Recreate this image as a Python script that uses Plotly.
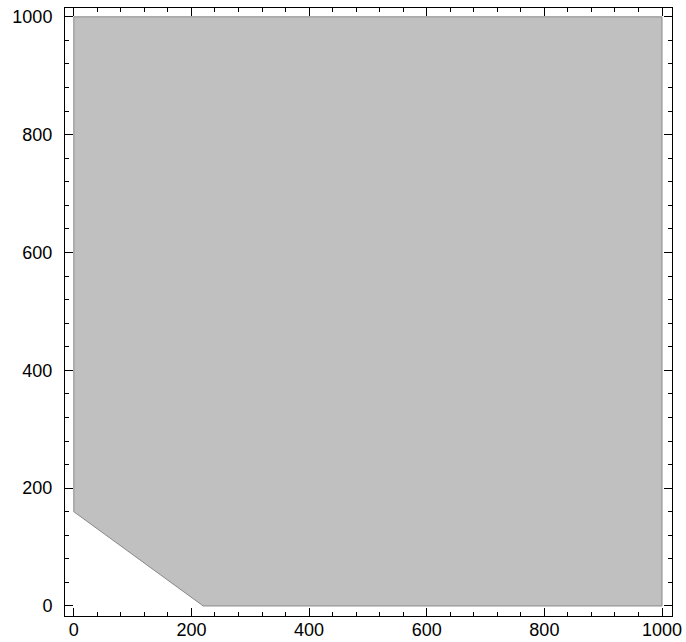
import plotly.graph_objects as go

# Region boundary vertices (data units)
region_x = [0, 0, 1000, 1000, 220, 0]
region_y = [160, 1000, 1000, 0, 0, 160]

tick_vals = [0, 200, 400, 600, 800, 1000]
tick_text = ["0", "200", "400", "600", "800", "1000"]

fig = go.Figure()
fig.add_trace(go.Scatter(
    x=region_x, y=region_y, mode="lines", fill="toself",
    fillcolor="#c0c0c0", line=dict(color="#8a8a8a", width=1),
    hoverinfo="skip", showlegend=False,
))

axis_common = dict(
    showgrid=False, zeroline=False, showline=True, linecolor="black",
    linewidth=1, mirror="ticks", ticks="inside", ticklen=8, tickwidth=1,
    tickcolor="black", tickvals=tick_vals, ticktext=tick_text, automargin=False,
    tickfont=dict(family="Liberation Sans, Arial, sans-serif", size=18, color="black"),
    minor=dict(ticks="inside", ticklen=4, tickwidth=1, tickcolor="black", dtick=40, tick0=0, showgrid=False),
)

fig.update_layout(
    width=686, height=642,
    margin=dict(l=65, r=14, t=8, b=26),
    plot_bgcolor="white", paper_bgcolor="white",
    xaxis=dict(range=[-15, 1017], ticklabelstandoff=-3, **axis_common),
    yaxis=dict(range=[-17, 1015], ticklabelstandoff=8, **axis_common),
)

fig.write_html("out.html")
